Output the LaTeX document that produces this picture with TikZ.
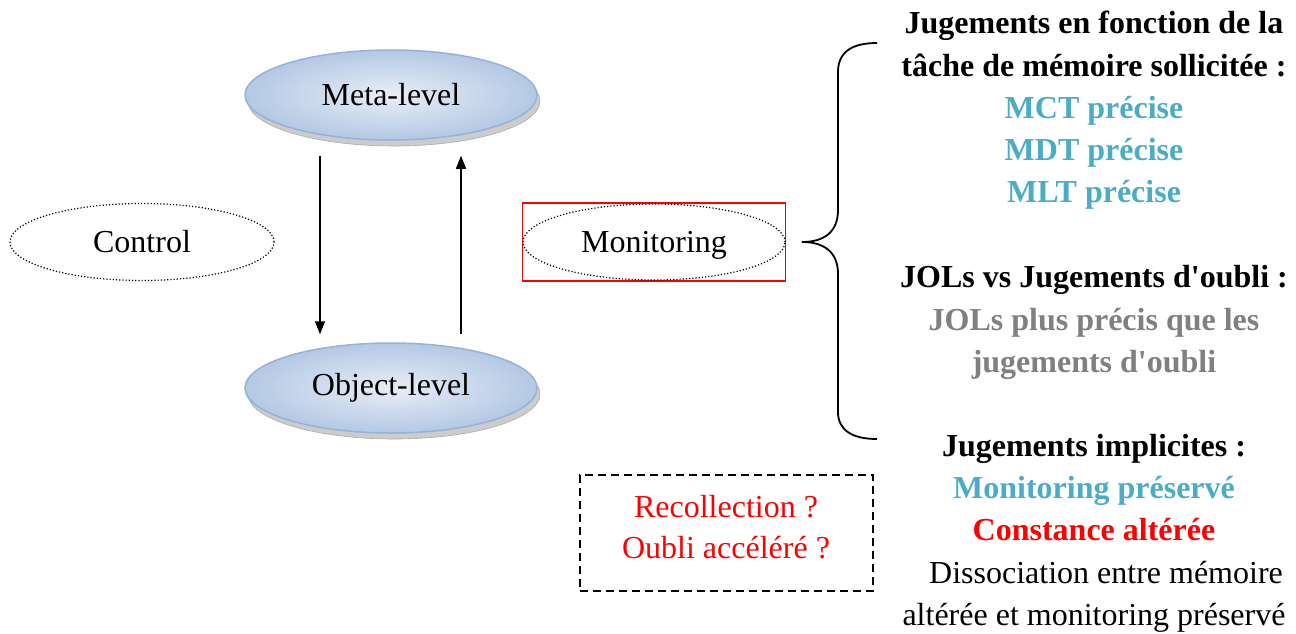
\documentclass[tikz,border=0pt]{standalone}
\usepackage{fontspec}
\setmainfont{Liberation Serif}[Ligatures=TeXOff]
\usetikzlibrary{shapes.geometric,shadows,arrows.meta}
\definecolor{aqua}{HTML}{4BACC6}
\definecolor{greytxt}{HTML}{808080}
\definecolor{elborder}{HTML}{95B3D7}
\definecolor{elin}{HTML}{E8EEF7}
\definecolor{elout}{HTML}{B4C8E4}
\tikzset{
  every node/.style={font=\fontsize{32}{42.3}\selectfont},
  level/.style={ellipse, minimum width=292pt, minimum height=90pt, inner sep=0pt,
    draw=elborder, line width=1.5pt, shading=radial, inner color=elin, outer color=elout,
    drop shadow={shadow xshift=3pt, shadow yshift=-6pt, fill=gray!40, opacity=1, draw=gray!65, line width=0.6pt}},
  dotell/.style={ellipse, draw, dotted, line width=1.2pt, inner sep=0pt},
  arr/.style={-{Triangle[length=13pt,width=10pt]}, line width=1.3pt},
  line/.style={anchor=base, inner sep=0pt},
  bline/.style={line, font=\fontsize{32}{42.3}\selectfont\bfseries},
}
\begin{document}
\begin{tikzpicture}[x=1pt,y=-1pt]
\useasboundingbox (0,0) rectangle (1296,633);
% levels
\node[level] (meta) at (391,95) {Meta-level};
\node[level] (obj) at (391,388) {Object-level};
\draw[arr] ([xshift=-71pt,yshift=-15pt]meta.south) -- ([xshift=-71pt,yshift=8pt]obj.north);
\draw[arr] ([xshift=70pt,yshift=8pt]obj.north) -- ([xshift=70pt,yshift=-15pt]meta.south);
% control / monitoring
\node[dotell, minimum width=264pt, minimum height=77pt] (control) at (142,242) {Control};
\node[draw=red, line width=1.5pt, minimum width=263pt, minimum height=78pt, inner sep=0pt] (monbox) at (654,242) {};
\node[dotell, minimum width=262pt, minimum height=76pt, text depth=0pt] (mon) at (654,242) {Monitoring};
% brace
\coordinate (tip) at (802,242);
\draw[line width=1.8pt] (877,43) .. controls (852,43) and (838,52) .. (838,72) -- (838,210)
  .. controls (838,232) and (824,242) .. (tip)
  .. controls (824,242) and (838,252) .. (838,274) -- (838,412)
  .. controls (838,430) and (852,439) .. (877,439);
% dashed box
\node[draw, dashed, dash pattern=on 8pt off 5pt, line width=1.6pt, minimum width=293pt, minimum height=116pt, inner sep=0pt] (qbox) at (726.5,533) {};
\node[line, text=red] (q1) at (726,517) {Recollection ?};
\node[line, text=red] (q2) at (726,558) {Oubli accéléré ?};
% right texts
\node[bline] (a1) at (1094,33) {Jugements en fonction de la};
\node[bline] (a2) at (1094,76) {tâche de mémoire sollicitée :};
\node[bline, text=aqua] (a3) at (1094,118) {MCT précise};
\node[bline, text=aqua] (a4) at (1094,160) {MDT précise};
\node[bline, text=aqua] (a5) at (1094,202) {MLT précise};
\node[bline] (b1) at (1094,287) {JOLs vs Jugements d'oubli :};
\node[bline, text=greytxt] (b2) at (1094,330) {JOLs plus précis que les};
\node[bline, text=greytxt] (b3) at (1094,372) {jugements d'oubli};
\node[bline] (c1) at (1094,456) {Jugements implicites :};
\node[bline, text=aqua] (c2) at (1094,498) {Monitoring préservé};
\node[bline, text=red] (c3) at (1094,540) {Constance altérée};
\node[line] (c4) at (1106,583) {Dissociation entre mémoire};
\node[line] (c5) at (1094,625) {altérée et monitoring préservé};
\end{tikzpicture}
\end{document}
